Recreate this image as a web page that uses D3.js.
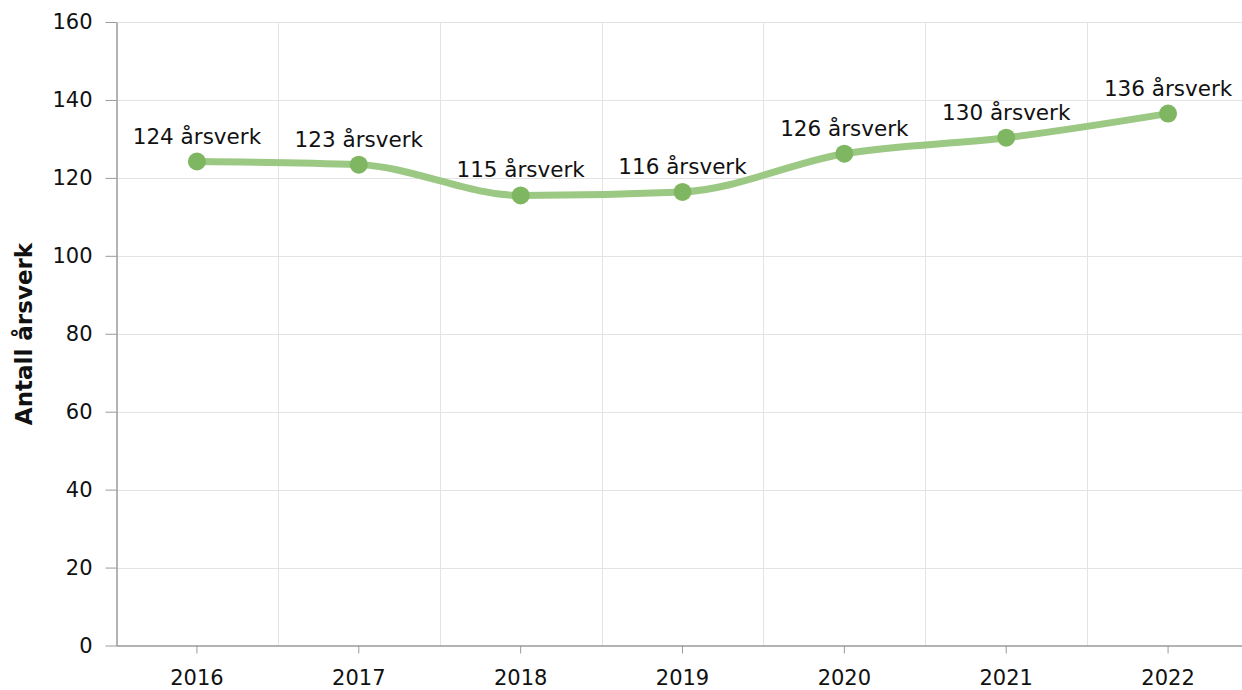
<!DOCTYPE html>
<html>
<head>
<meta charset="utf-8">
<script src="https://cdn.jsdelivr.net/npm/d3@7"></script>
<style>
  html, body { margin: 0; padding: 0; background: #fff; }
  svg { display: block; font-family: Verdana, "DejaVu Sans", sans-serif; }
</style>
</head>
<body>
<div id="chart"></div>
<script>
const years = ["2016", "2017", "2018", "2019", "2020", "2021", "2022"];
const values = [124.2, 123.4, 115.5, 116.4, 126.2, 130.3, 136.5];
const labels = ["124 årsverk", "123 årsverk", "115 årsverk", "116 årsverk", "126 årsverk", "130 årsverk", "136 årsverk"];
const yTicks = [0, 20, 40, 60, 80, 100, 120, 140, 160];
const yTitle = "Antall årsverk";

const W = 1242, H = 690;
const mLeft = 116, mRight = 1249, mTop = 22, mBottom = 645.5;

const svg = d3.select("#chart").append("svg").attr("width", W).attr("height", H);

const x = d3.scaleBand().domain(years).range([mLeft, mRight]).padding(0);
const y = d3.scaleLinear().domain([0, 160]).range([mBottom, mTop]);
const cx = d => x(d) + x.bandwidth() / 2;

// horizontal gridlines
svg.append("g").selectAll("line").data(yTicks.filter(t => t > 0)).join("line")
  .attr("x1", mLeft).attr("x2", W)
  .attr("y1", d => Math.round(y(d)) + 0.5).attr("y2", d => Math.round(y(d)) + 0.5)
  .attr("stroke", "#e3e3e3").attr("stroke-width", 1);

// vertical gridlines at band boundaries
svg.append("g").selectAll("line").data(years.slice(1)).join("line")
  .attr("x1", d => Math.round(x(d)) + 0.5).attr("x2", d => Math.round(x(d)) + 0.5)
  .attr("y1", mTop).attr("y2", mBottom)
  .attr("stroke", "#e3e3e3").attr("stroke-width", 1);

// y axis
const yAxis = svg.append("g").attr("transform", `translate(${mLeft + 0.5},0)`)
  .call(d3.axisLeft(y).tickValues(yTicks).tickSize(11).tickPadding(13).tickSizeOuter(0));
yAxis.select(".domain").attr("stroke", "#9a9a9a").attr("stroke-width", 1.5);
yAxis.selectAll(".tick line").attr("stroke", "#9a9a9a");
yAxis.selectAll(".tick text").attr("font-size", "21px").attr("fill", "#111")
  .attr("font-family", 'Verdana, "DejaVu Sans", sans-serif');

// x axis
const xAxis = svg.append("g").attr("transform", `translate(0,${mBottom})`)
  .call(d3.axisBottom(x).tickSize(8).tickPadding(17).tickSizeOuter(0));
xAxis.select(".domain").attr("stroke", "#9a9a9a").attr("stroke-width", 1.5);
xAxis.selectAll(".tick line").attr("stroke", "#9a9a9a");
xAxis.selectAll(".tick text").attr("font-size", "21px").attr("fill", "#111")
  .attr("font-family", 'Verdana, "DejaVu Sans", sans-serif');

// y title
svg.append("text")
  .attr("transform", `translate(32,334) rotate(-90)`)
  .attr("text-anchor", "middle")
  .attr("font-size", "23px").attr("font-weight", "bold").attr("fill", "#111")
  .text(yTitle);

const data = years.map((yr, i) => ({ yr, v: values[i], lab: labels[i] }));

// line
const line = d3.line().x(d => cx(d.yr)).y(d => y(d.v)).curve(d3.curveMonotoneX);
svg.append("path").datum(data)
  .attr("d", line).attr("fill", "none")
  .attr("stroke", "#9bc883").attr("stroke-width", 7).attr("stroke-linecap", "round");

// points
svg.append("g").selectAll("circle").data(data).join("circle")
  .attr("cx", d => cx(d.yr)).attr("cy", d => y(d.v)).attr("r", 9)
  .attr("fill", "#7fb662");

// labels
svg.append("g").selectAll("text").data(data).join("text")
  .attr("x", d => cx(d.yr)).attr("y", d => y(d.v) - 18)
  .attr("text-anchor", "middle").attr("font-size", "21.5px").attr("fill", "#111")
  .text(d => d.lab);
</script>
</body>
</html>
